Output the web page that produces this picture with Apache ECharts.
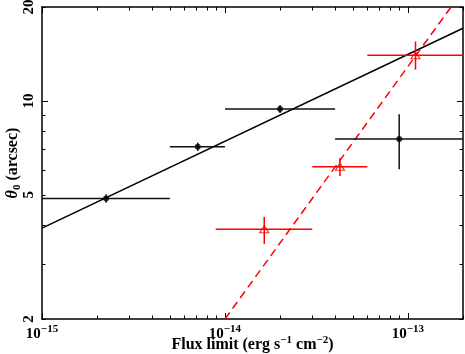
<!DOCTYPE html>
<html>
<head>
<meta charset="utf-8">
<script src="https://cdn.jsdelivr.net/npm/echarts@6/dist/echarts.min.js"></script>
<style>
html,body{margin:0;padding:0;background:#fff;}
#chart{width:465px;height:354px;}
</style>
</head>
<body>
<div id="chart"></div>
<script>
// ---- data ----
// black points: flux centre, theta0, flux lo, flux hi, theta lo, theta hi
const blackX    = [2.24e-15, 7.1e-15, 2.0e-14, 8.96e-14];
const blackY    = [4.87, 7.13, 9.42, 7.55];
const blackXlo  = [1.0e-15, 5.0e-15, 1.0e-14, 4.0e-14];
const blackXhi  = [5.0e-15, 1.0e-14, 4.0e-14, 2.0e-13];
const blackYlo  = [4.72, 6.92, 9.15, 6.04];
const blackYhi  = [5.02, 7.35, 9.70, 9.06];
// red points
const redX    = [1.64e-14, 4.25e-14, 1.10e-13];
const redY    = [3.88, 6.15, 14.0];
const redXlo  = [8.9e-15, 3.0e-14, 6.0e-14];
const redXhi  = [3.0e-14, 6.0e-14, 2.0e-13];
const redYlo  = [3.48, 5.75, 12.6];
const redYhi  = [4.25, 6.56, 15.5];
// fitted lines (end points)
const blackFitX = [1e-15, 2e-13];
const blackFitY = [3.91, 17.1];
const redFitX   = [1e-14, 1.72e-13];
const redFitY   = [2, 20];
// axes
const xMin = 1e-15, xMax = 2e-13;
const yMin = 2, yMax = 20;
const xMajor = [1e-15, 1e-14, 1e-13];
const xMinor = [2e-15,3e-15,4e-15,5e-15,6e-15,7e-15,8e-15,9e-15,
                2e-14,3e-14,4e-14,5e-14,6e-14,7e-14,8e-14,9e-14,2e-13];
const xLabels = [1e-15, 1e-14, 1e-13];
const yMajor = [10];
const yMinor = [2,3,4,5,6,7,8,9,20];
const yLabels = [2, 5, 10, 20];

const FONT = 'Liberation Serif';
const chart = echarts.init(document.getElementById('chart'), null, {renderer:'canvas'});

function zipPts(xs, ys){ return xs.map((x,i)=>[x, ys[i]]); }
function errData(xs, ys, xl, xh, yl, yh){ return xs.map((x,i)=>[x, ys[i], xl[i], xh[i], yl[i], yh[i]]); }

function errRender(color){
  return function(params, api){
    const x = api.value(0), y = api.value(1);
    const a = api.coord([api.value(2), y]);
    const b = api.coord([api.value(3), y]);
    const c = api.coord([x, api.value(4)]);
    const d = api.coord([x, api.value(5)]);
    const st = {stroke: color, lineWidth: 1.5};
    return {type:'group', children:[
      {type:'line', shape:{x1:a[0], y1:a[1], x2:b[0], y2:b[1]}, style:st},
      {type:'line', shape:{x1:c[0], y1:c[1], x2:d[0], y2:d[1]}, style:st}
    ]};
  };
}

const axisLineStyle = {color:'#000', width:1.5};
function xAx(pos, ticks, len, withLabel, showLine){
  const ax = {
    type:'log', logBase:10, min:xMin, max:xMax, position:pos,
    axisLine:{show:showLine, onZero:false, lineStyle:axisLineStyle},
    axisTick:{show:true, inside:true, length:len, customValues:ticks, lineStyle:{color:'#000', width:1}},
    splitLine:{show:false}, minorTick:{show:false},
    axisLabel:{show:false}
  };
  if (withLabel){
    ax.axisLabel = {
      show:true, customValues:xLabels, margin:5,
      formatter: function(v){
        const e = Math.round(Math.log10(v));
        return '{b|10}{s|\u2212' + Math.abs(e) + '}';
      },
      rich:{
        b:{fontFamily:FONT, fontWeight:'bold', fontSize:15, color:'#000', lineHeight:18, verticalAlign:'bottom'},
        s:{fontFamily:FONT, fontWeight:'bold', fontSize:11, color:'#000', lineHeight:11, verticalAlign:'top'}
      }
    };
    ax.name = '{n|Flux limit (erg s}{s|\u22121}{n| cm}{s|\u22122}{n|)}';
    ax.nameLocation = 'middle';
    ax.nameGap = 16;
    ax.nameMoveOverlap = false;
    ax.nameTextStyle = {
      rich:{
        n:{fontFamily:FONT, fontWeight:'bold', fontSize:16, color:'#000', lineHeight:18, verticalAlign:'bottom'},
        s:{fontFamily:FONT, fontWeight:'bold', fontSize:11, color:'#000', lineHeight:11, verticalAlign:'top'}
      }
    };
  }
  return ax;
}
function yAx(pos, ticks, len, withLabel, showLine){
  const ax = {
    type:'log', logBase:10, min:yMin, max:yMax, position:pos,
    axisLine:{show:showLine, onZero:false, lineStyle:axisLineStyle},
    axisTick:{show:true, inside:true, length:len, customValues:ticks, lineStyle:{color:'#000', width:1}},
    splitLine:{show:false}, minorTick:{show:false},
    axisLabel:{show:false}
  };
  if (withLabel){
    ax.axisLabel = {
      show:true, customValues:yLabels, rotate:90, margin:5,
      fontFamily:FONT, fontWeight:'bold', fontSize:15, color:'#000',
      formatter: function(v){ return String(Math.round(v)); }
    };
    ax.name = '{t|\u03b8}{s|0}{n| (arcsec)}';
    ax.nameLocation = 'middle';
    ax.nameRotate = 90;
    ax.nameGap = 19;
    ax.nameMoveOverlap = false;
    ax.nameTextStyle = {
      rich:{
        t:{fontFamily:FONT, fontWeight:'bold', fontStyle:'italic', fontSize:16, color:'#000', lineHeight:18, verticalAlign:'top'},
        n:{fontFamily:FONT, fontWeight:'bold', fontSize:16, color:'#000', lineHeight:18, verticalAlign:'top'},
        s:{fontFamily:FONT, fontWeight:'bold', fontSize:11, color:'#000', lineHeight:11, verticalAlign:'bottom'}
      }
    };
  }
  return ax;
}

const option = {
  animation:false,
  backgroundColor:'#fff',
  grid:{left:42, right:2, top:7, bottom:35, containLabel:false, outerBoundsMode:'none'},
  xAxis:[
    xAx('bottom', xMajor, 6, true, true),
    xAx('bottom', xMinor, 3.5, false, false),
    xAx('top', xMajor, 6, false, true),
    xAx('top', xMinor, 3.5, false, false)
  ],
  yAxis:[
    yAx('left', yMajor, 6, true, true),
    yAx('left', yMinor, 3.5, false, false),
    yAx('right', yMajor, 6, false, true),
    yAx('right', yMinor, 3.5, false, false)
  ],
  series:[
    {type:'line', data:zipPts(blackFitX, blackFitY), showSymbol:false, symbol:'none',
     lineStyle:{color:'#000', width:1.5}, silent:true, z:2},
    {type:'line', data:zipPts(redFitX, redFitY), showSymbol:false, symbol:'none',
     lineStyle:{color:'#ff0000', width:1.5, type:[8,5]}, silent:true, z:2},
    {type:'custom', data:errData(blackX, blackY, blackXlo, blackXhi, blackYlo, blackYhi),
     renderItem:errRender('#111'), encode:{x:0, y:1}, z:3, clip:true},
    {type:'custom', data:errData(redX, redY, redXlo, redXhi, redYlo, redYhi),
     renderItem:errRender('#ff0000'), encode:{x:0, y:1}, z:3, clip:true},
    {type:'scatter', data:zipPts(blackX, blackY), symbol:'circle', symbolSize:6,
     itemStyle:{color:'#000'}, z:4},
    {type:'scatter', data:zipPts(redX, redY), symbol:'triangle', symbolSize:[9,7],
     itemStyle:{color:'rgba(0,0,0,0)', borderColor:'#ff0000', borderWidth:1.2}, z:4}
  ]
};
chart.setOption(option);
</script>
</body>
</html>
